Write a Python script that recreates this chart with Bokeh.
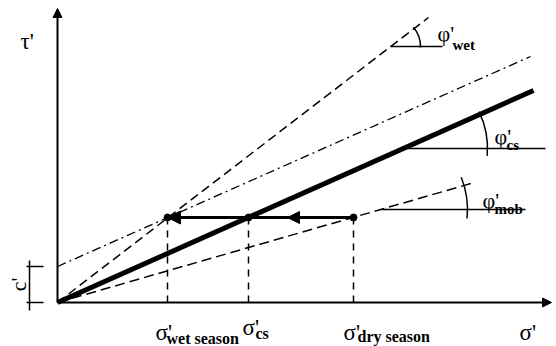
import numpy as np
from bokeh.plotting import figure
from bokeh.models import Range1d, Arrow, NormalHead
from bokeh.core.properties import value
from bokeh.embed import file_html
from bokeh.resources import INLINE

# ---- data (sigma', tau' in drawing units) ----
axis_sigma_end = 494
axis_tau_end = 294

wet_sigma = [0, 371]; wet_tau = [0, 285]        # phi'_wet envelope (dashed)
cd_sigma = [0, 473]; cd_tau = [36, 246]         # c' + tan(phi'_cs) envelope (dash-dot)
cs_sigma = [0, 476]; cs_tau = [0, 212]          # critical state line (thick)
mob_sigma = [0, 417]; mob_tau = [0, 120]        # mobilised (dashed)

c_prime = 36
path_tau = 85
state_sigma = [110, 191, 296]                   # wet season, cs, dry season
mid_arrow_sigma = 230

# angle markers
ang_cx = [333, 346, 324]
ang_cy = [256, 154, 93]
ang_x_end = [385, 488, 468]
ang_r = [30, 84, 86]
ang_start = [-2, -5, -6]
ang_end = [40, 26, 22]

# labels
phi_x = [380, 437, 425]
phi_y = [269, 166, 102]
phi_sub_x = [395, 449, 437]
phi_sub_y = [258, 158, 94]
phi_sub = ["wet", "cs", "mob"]

sig_x = [98, 185, 286]
sig_y = [-30, -25, -30]
sig_sub_x = [109, 198, 300]
sig_sub_y = [-36, -31, -34]
sig_sub = ["wet season", "cs", "dry season"]

FONT = value("Liberation Serif")

p = figure(width=556, height=346, x_range=Range1d(-57, 499), y_range=Range1d(-44, 302),
           output_backend="svg", toolbar_location=None, min_border=0)
p.axis.visible = False
p.grid.visible = False
p.outline_line_color = None
p.background_fill_color = "white"

# axes with arrows
p.add_layout(Arrow(end=NormalHead(size=9, fill_color="black", line_color="black"),
                   x_start=0, y_start=0, x_end=0, y_end=axis_tau_end, line_width=2))
p.add_layout(Arrow(end=NormalHead(size=9, fill_color="black", line_color="black"),
                   x_start=0, y_start=0, x_end=axis_sigma_end, y_end=0, line_width=2))

# envelopes
p.line(wet_sigma, wet_tau, line_color="black", line_width=1.5, line_dash="9 5")
p.line(cd_sigma, cd_tau, line_color="black", line_width=1.3, line_dash="9 4 2 4")
p.line(cs_sigma, cs_tau, line_color="black", line_width=5)
p.line(mob_sigma, mob_tau, line_color="black", line_width=1.5, line_dash="10 5")

# vertical dashed projections
p.segment(x0=state_sigma, y0=[0] * 3, x1=state_sigma, y1=[path_tau] * 3,
          line_color="black", line_width=1.5, line_dash="7 6")

# stress path with arrows
p.line([state_sigma[2], state_sigma[0]], [path_tau, path_tau], line_color="black", line_width=3)
p.add_layout(Arrow(end=NormalHead(size=13, fill_color="black", line_color="black"),
                   x_start=state_sigma[1], y_start=path_tau, x_end=state_sigma[0], y_end=path_tau,
                   line_width=3))
p.add_layout(Arrow(end=NormalHead(size=12, fill_color="black", line_color="black"),
                   x_start=state_sigma[2], y_start=path_tau, x_end=mid_arrow_sigma, y_end=path_tau,
                   line_width=3))
p.scatter(state_sigma, [path_tau] * 3, size=7, color="black")

# c' bracket
p.segment(x0=[-28], y0=[-8], x1=[-28], y1=[c_prime + 6], line_color="black", line_width=1.5)
p.segment(x0=[-31, -31], y0=[0, c_prime], x1=[-14, -14], y1=[0, c_prime], line_color="black", line_width=1.5)
p.text(x=[-39], y=[18], text=["c'"], angle=np.pi / 2, text_font=FONT, text_font_size="22px",
       text_align="center", text_baseline="alphabetic")

# angle markers
p.segment(x0=ang_cx, y0=ang_cy, x1=ang_x_end, y1=ang_cy, line_color="black", line_width=1.5)
p.arc(x=ang_cx, y=ang_cy, radius=ang_r, start_angle=np.radians(ang_start),
      end_angle=np.radians(ang_end), line_color="black", line_width=1.5)

# axis labels
p.text(x=[-37], y=[261], text=["τ'"], text_font=FONT, text_font_size="23px",
       text_align="left", text_baseline="alphabetic")
p.text(x=[462], y=[-30], text=["σ'"], text_font=FONT, text_font_size="23px",
       text_align="left", text_baseline="alphabetic")

# phi labels
p.text(x=phi_x, y=phi_y, text=["φ'"] * 3, text_font=FONT, text_font_size="22px",
       text_align="left", text_baseline="alphabetic")
p.text(x=phi_sub_x, y=phi_sub_y, text=phi_sub, text_font=FONT, text_font_size="15px",
       text_font_style="bold", text_align="left", text_baseline="alphabetic")

# sigma labels
p.text(x=sig_x, y=sig_y, text=["σ'"] * 3, text_font=FONT, text_font_size="23px",
       text_align="left", text_baseline="alphabetic")
p.text(x=sig_sub_x, y=sig_sub_y, text=sig_sub, text_font=FONT, text_font_size="16px",
       text_font_style="bold", text_align="left", text_baseline="alphabetic")

open("out.html", "w").write(file_html(p, INLINE))
